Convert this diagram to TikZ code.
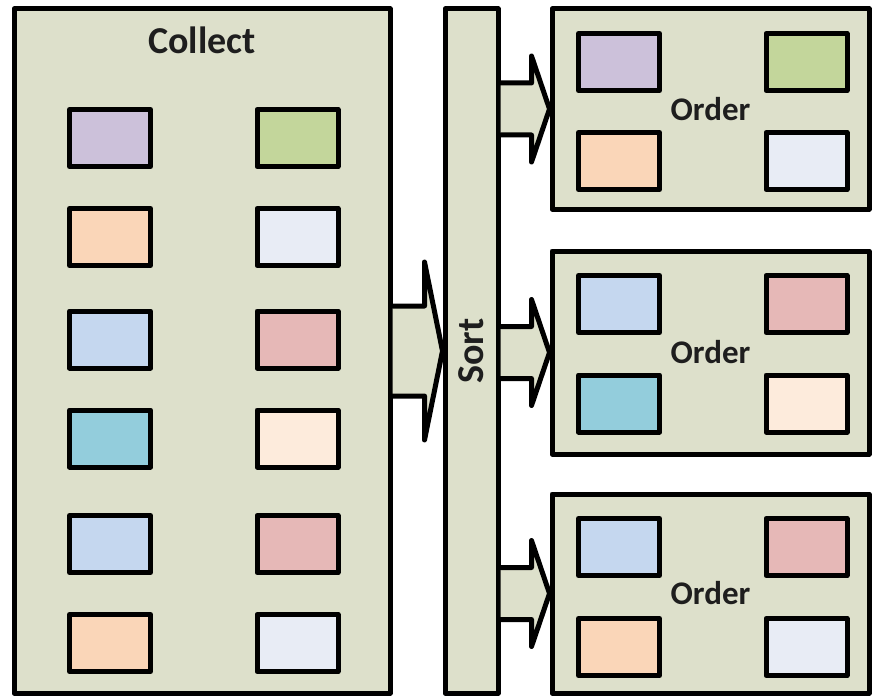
\documentclass[tikz,border=0pt]{standalone}
\usepackage{fontspec}
\setmainfont{Carlito}
\usetikzlibrary{positioning,calc}
\definecolor{panelgreen}{HTML}{DDE0CB}
\definecolor{tilepurple}{HTML}{CCC1DA}
\definecolor{tilegreen}{HTML}{C3D69B}
\definecolor{tilepeach}{HTML}{FAD6B8}
\definecolor{tilepale}{HTML}{E8ECF5}
\definecolor{tileblue}{HTML}{C5D7EF}
\definecolor{tilered}{HTML}{E6B8B7}
\definecolor{tileteal}{HTML}{93CDDC}
\definecolor{tilecream}{HTML}{FDEBDC}
\definecolor{labelgray}{HTML}{1E1E1E}
\tikzset{
	panel/.style={draw=black,fill=panelgreen,line width=5pt,inner sep=0pt},
	tile/.style={draw=black,line width=5pt,minimum width=81pt,minimum height=57pt,inner sep=0pt},
	bigtext/.style={inner sep=0pt,text=labelgray,font=\bfseries\fontsize{38}{40}\selectfont},
	ordertext/.style={inner sep=0pt,text=labelgray,font=\bfseries\fontsize{33}{35}\selectfont},
	fat arrow/.style 2 args={draw=black,fill=panelgreen,line width=5pt,
		to path={($(\tikztostart)+(0,#1)$) -- ($(\tikztotarget)+(-18,#1)$) -- ($(\tikztotarget)+(-18,#2)$) -- (\tikztotarget)
			-- ($(\tikztotarget)+(-18,-#2)$) -- ($(\tikztotarget)+(-18,-#1)$) -- ($(\tikztostart)+(0,-#1)$)}}
}
\begin{document}
\begin{tikzpicture}[line cap=round,line join=round,x=1pt,y=-1pt]
			\useasboundingbox (0,0) rectangle (873,698);
			\node[panel,minimum width=376pt,minimum height=684pt] (collect) at (202,351) {};
			\node[panel,minimum width=53pt,minimum height=684pt] (sort) at (471.5,351) {};
			\node[panel,minimum width=317pt,minimum height=200pt] (order1) at (710.5,109) {};
			\node[panel,minimum width=317pt,minimum height=203pt] (order2) at (710.5,352.5) {};
			\node[panel,minimum width=317pt,minimum height=199pt] (order3) at (710.5,593.5) {};
			\node[bigtext,below=20pt of collect.north] (collectlabel) {Collect};
			\node[bigtext,rotate=90] (sortlabel) at (sort) {Sort};
			\node[ordertext] (orderlabel1) at (order1) {Order};
			\node[ordertext] (orderlabel2) at (order2) {Order};
			\node[ordertext] (orderlabel3) at (order3) {Order};
			\node[tile,fill=tilepurple] (c1a) at (110,138) {};
			\node[tile,fill=tilegreen] (c1b) at (297.5,138) {};
			\node[tile,fill=tilepeach] (c2a) at (110,237) {};
			\node[tile,fill=tilepale] (c2b) at (297.5,237) {};
			\node[tile,fill=tileblue] (c3a) at (110,339.5) {};
			\node[tile,fill=tilered] (c3b) at (297.5,339.5) {};
			\node[tile,fill=tileteal] (c4a) at (110,438.5) {};
			\node[tile,fill=tilecream] (c4b) at (297.5,438.5) {};
			\node[tile,fill=tileblue] (c5a) at (110,544) {};
			\node[tile,fill=tilered] (c5b) at (297.5,544) {};
			\node[tile,fill=tilepeach] (c6a) at (110,643) {};
			\node[tile,fill=tilepale] (c6b) at (297.5,643) {};
			\node[tile,fill=tilepurple] (o1a) at (619,62) {};
			\node[tile,fill=tilegreen] (o1b) at (806.5,62) {};
			\node[tile,fill=tilepeach] (o1c) at (619,161) {};
			\node[tile,fill=tilepale] (o1d) at (806.5,161) {};
			\node[tile,fill=tileblue] (o2a) at (619,304) {};
			\node[tile,fill=tilered] (o2b) at (806.5,304) {};
			\node[tile,fill=tileteal] (o2c) at (619,403.5) {};
			\node[tile,fill=tilecream] (o2d) at (806.5,403.5) {};
			\node[tile,fill=tileblue] (o3a) at (619,547) {};
			\node[tile,fill=tilered] (o3b) at (806.5,547) {};
			\node[tile,fill=tilepeach] (o3c) at (619,647) {};
			\node[tile,fill=tilepale] (o3d) at (806.5,647) {};
			\draw[fat arrow={45}{89}] (collect.east) to (sort.west);
			\draw[fat arrow={26}{53}] (sort.east |- order1.west) to (order1.west);
			\draw[fat arrow={26}{53}] (sort.east |- order2.west) to (order2.west);
			\draw[fat arrow={26}{53}] (sort.east |- order3.west) to (order3.west);
		\end{tikzpicture}
\end{document}
